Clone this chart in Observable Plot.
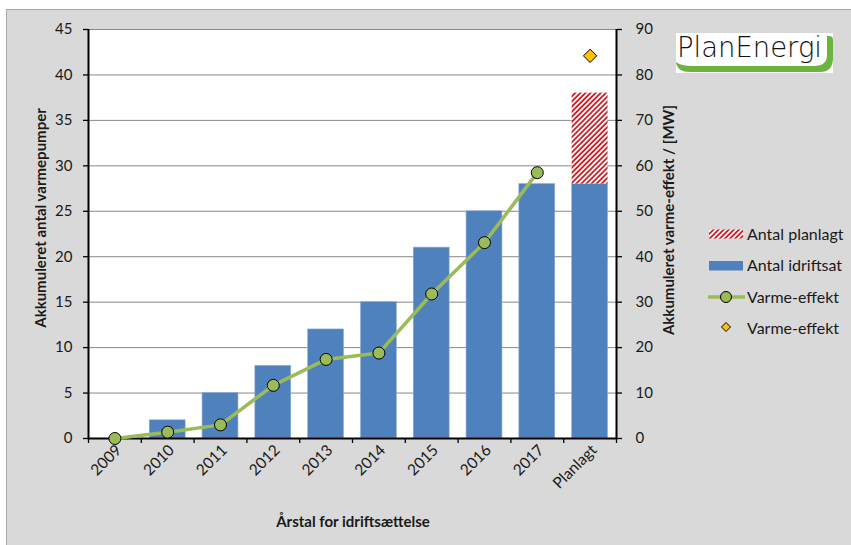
<!DOCTYPE html>
<html><head><meta charset="utf-8">
<script src="https://cdn.jsdelivr.net/npm/d3@7"></script>
<script src="https://cdn.jsdelivr.net/npm/@observablehq/plot@0.6"></script>
<style>
body{margin:0;background:#fff;}
#wrap{position:relative;width:851px;height:545px;overflow:hidden;font-family:Lato,"Open Sans",sans-serif;color:#1a1a1a;}
#bg{position:absolute;left:6px;top:9px;width:900px;height:600px;background:#d9d9d9;border-left:1px solid #a6a6a6;border-top:1px solid #a6a6a6;}
#chart{position:absolute;left:0;top:0;}
.title{position:absolute;font-weight:bold;font-size:15px;white-space:nowrap;}
.rot{transform:translate(-50%,-50%) rotate(-90deg);}
#xt{transform:translate(-50%,-50%);}
#legend{position:absolute;left:0;top:0;}
#logo{position:absolute;left:0;top:0;}
</style>
</head><body>
<div id="wrap">
  <div id="bg"></div>
  <div id="chart"></div>
  <div class="title rot" style="left:40px;top:218px;">Akkumuleret antal varmepumper</div>
  <div class="title rot" style="left:668px;top:220px;">Akkumuleret varme-effekt / [MW]</div>
  <div class="title" id="xt" style="left:353px;top:521px;">Årstal for idriftsættelse</div>
</div>
<script>
const categories = ["2009","2010","2011","2012","2013","2014","2015","2016","2017","Planlagt"];
const idriftsat = [0,2,5,8,12,15,21,25,28,28];
const planlagt  = [0,0,0,0,0,0,0,0,0,10];
const varmeEffekt = [0,1.4,3.0,11.7,17.4,18.8,31.8,43.1,58.5]; // MW, 2009-2017
const varmeEffektPlan = 84.2; // MW, Planlagt
const leftTicks = [0,5,10,15,20,25,30,35,40,45];
const rightTicks = [0,10,20,30,40,50,60,70,80,90];
const legendLabels = ["Antal planlagt","Antal idriftsat","Varme-effekt","Varme-effekt"];

const BLUE="#4f81bd", GREEN="#9bbb59", RED="#cc1f26", GOLD="#ffc000";
const W=851,H=545,ML=88,MR=235,MT=29,MB=107;
const step=(W-ML-MR)/categories.length;

const rows = categories.map((c,i)=>({cat:c, idrift:idriftsat[i], plan:planlagt[i]}));
const lineRows = varmeEffekt.map((v,i)=>({cat:categories[i], mw:v}));
const planRows = [{cat:"Planlagt", mw:varmeEffektPlan}];

const plot = Plot.plot({
  width:W, height:H, marginLeft:ML, marginRight:MR, marginTop:MT, marginBottom:MB,
  style:{background:"transparent", fontFamily:"Lato, 'Open Sans', sans-serif", fontSize:"14px", color:"#1a1a1a"},
  x:{type:"band", domain:categories, paddingInner:0.32, paddingOuter:0.16, round:false, axis:null},
  y:{domain:[0,45], axis:null},
  marks:[
    Plot.frame({fill:"white", stroke:"none"}),
    Plot.gridY(leftTicks.slice(1), {stroke:"#888", strokeOpacity:1, strokeWidth:1}),
    Plot.barY(rows, {x:"cat", y:"idrift", fill:BLUE, stroke:"#8fb0d9", strokeWidth:0.6}),
    Plot.barY(rows.filter(d=>d.plan>0), {x:"cat", y1:"idrift", y2:d=>d.idrift+d.plan, fill:"url(#hatch)"}),
    Plot.axisY({anchor:"left", ticks:leftTicks, tickSize:5, tickPadding:11, fontSize:15, label:null, stroke:"#000", strokeWidth:1.3}),
    Plot.axisY({anchor:"right", ticks:rightTicks.map(d=>d/2), tickFormat:d=>String(d*2), tickSize:5, tickPadding:14, fontSize:15, label:null, stroke:"#000", strokeWidth:1.3}),
    Plot.axisX({anchor:"bottom", tickSize:0, tickRotate:-45, tickPadding:9, dx:4, fontSize:15.5, label:null}),
    Plot.ruleX(categories, {dx:-step/2, y1:0, y2:-0.55, stroke:"#000", strokeWidth:1.3}),
    Plot.ruleX([categories[categories.length-1]], {dx:step/2, y1:0, y2:-0.55, stroke:"#000", strokeWidth:1.3}),
    Plot.ruleX([categories[0]], {dx:-step/2, stroke:"#000", strokeWidth:2}),
    Plot.ruleX([categories[categories.length-1]], {dx:step/2, stroke:"#000", strokeWidth:2}),
    Plot.ruleY([0], {stroke:"#000", strokeWidth:2}),
    Plot.line(lineRows, {x:"cat", y:d=>d.mw/2, stroke:GREEN, strokeWidth:3.5}),
    Plot.dot(lineRows, {x:"cat", y:d=>d.mw/2, r:6, fill:GREEN, stroke:"#000", strokeWidth:1}),
    Plot.dot(planRows, {x:"cat", y:d=>d.mw/2, symbol:"diamond2", r:6, fill:GOLD, stroke:"#000", strokeWidth:1})
  ]
});
const defs = d3.create("svg:defs");
const pat = defs.append("pattern").attr("id","hatch").attr("patternUnits","userSpaceOnUse")
  .attr("width",3.6).attr("height",3.6).attr("patternTransform","rotate(45)");
pat.append("rect").attr("width",3.6).attr("height",3.6).attr("fill","#fff");
pat.append("rect").attr("width",1.8).attr("height",3.6).attr("fill",RED);
plot.insertBefore(defs.node(), plot.firstChild);
document.getElementById("chart").appendChild(plot);

// Legend
const wrap = d3.select("#wrap");
const lg = wrap.append("svg").attr("id","legend").attr("width",W).attr("height",H)
  .style("font-family","Lato, 'Open Sans', sans-serif").style("font-size","16px");
const ld = lg.append("defs").append("pattern").attr("id","hatch2").attr("patternUnits","userSpaceOnUse")
  .attr("width",3.6).attr("height",3.6).attr("patternTransform","rotate(45)");
ld.append("rect").attr("width",3.6).attr("height",3.6).attr("fill","#fff");
ld.append("rect").attr("width",1.8).attr("height",3.6).attr("fill",RED);
const ly=[234,265,297,328];
lg.append("rect").attr("x",709).attr("y",229.5).attr("width",34).attr("height",9).attr("fill","url(#hatch2)");
lg.append("rect").attr("x",709).attr("y",261).attr("width",34).attr("height",9.5).attr("fill",BLUE);
lg.append("line").attr("x1",708).attr("x2",745).attr("y1",297).attr("y2",297).attr("stroke",GREEN).attr("stroke-width",3.5);
lg.append("circle").attr("cx",726).attr("cy",297).attr("r",5.5).attr("fill",GREEN).attr("stroke","#000");
lg.append("path").attr("d","M726,322.5L730.5,327L726,331.5L721.5,327Z").attr("fill",GOLD).attr("stroke","#000");
legendLabels.forEach((t,i)=>lg.append("text").attr("x",747).attr("y",ly[i]).attr("dy","0.35em").attr("fill","#1a1a1a").text(t));

// Logo
const lo = wrap.append("svg").attr("id","logo").attr("width",W).attr("height",H);
lo.append("rect").attr("x",676).attr("y",33).attr("width",157).attr("height",40).attr("fill","#fff");
lo.append("path").attr("d","M676,62 Q677,72 690,72 L820,72 Q833,72 833,58 L833,40 Q833,36 829,36 L827,36 L827,55 Q827,66 814,66 L692,66 Q681,66 676,62 Z").attr("fill","#6db33f");
lo.append("text").attr("x",677).attr("y",57).attr("font-family","'DejaVu Sans', sans-serif").attr("font-weight",200)
  .attr("font-size",28).attr("textLength",145).attr("lengthAdjust","spacingAndGlyphs").attr("fill","#111").text("PlanEnergi");
</script>
</body></html>
